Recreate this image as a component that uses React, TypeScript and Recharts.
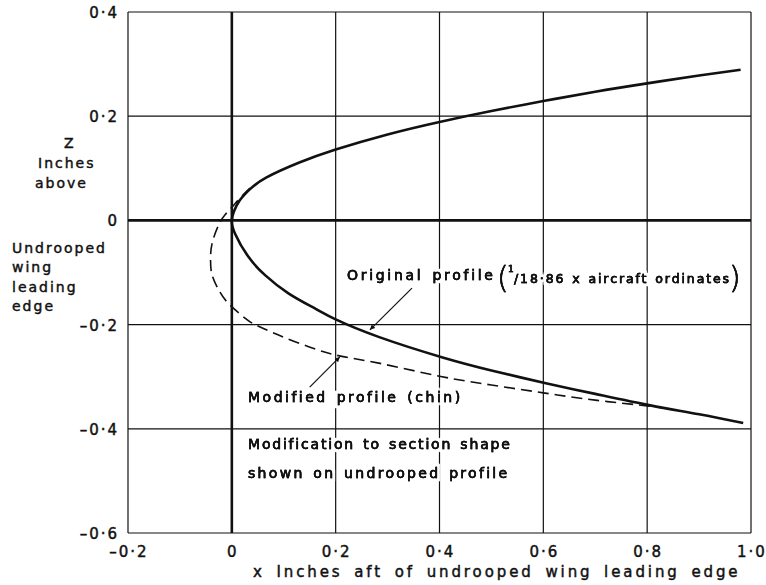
import React from 'react';
import { LineChart, Line, XAxis, YAxis, CartesianGrid, ReferenceLine, Customized } from 'recharts';

// Original profile (1/18.86 x aircraft ordinates): upper tip -> nose -> lower tip
const originalX = [0.98, 0.9, 0.8, 0.7, 0.6, 0.5, 0.4, 0.3, 0.2, 0.13, 0.066, 0.034, 0.015, 0.004, 0, 0.006, 0.032, 0.064, 0.109, 0.16, 0.2, 0.284, 0.406, 0.5, 0.607, 0.7, 0.806, 0.9, 0.985];
const originalZ = [0.289, 0.278, 0.263, 0.247, 0.229, 0.21, 0.189, 0.165, 0.136, 0.111, 0.082, 0.059, 0.038, 0.017, 0, -0.025, -0.07, -0.105, -0.14, -0.169, -0.19, -0.224, -0.263, -0.288, -0.313, -0.333, -0.355, -0.372, -0.389];

// Modified profile (chin)
const modifiedX = [0.035, 0.015, 0, -0.013, -0.025, -0.038, -0.041, -0.038, -0.025, -0.006, 0.026, 0.045, 0.09, 0.155, 0.212, 0.283, 0.4, 0.5, 0.6, 0.7, 0.8, 0.83];
const modifiedZ = [0.062, 0.042, 0.025, 0.011, -0.008, -0.044, -0.076, -0.105, -0.134, -0.16, -0.188, -0.2, -0.22, -0.245, -0.261, -0.274, -0.299, -0.316, -0.331, -0.345, -0.356, -0.36];

const xTicks = [-0.2, 0, 0.2, 0.4, 0.6, 0.8, 1.0];
const zTicks = [-0.6, -0.4, -0.2, 0, 0.2, 0.4];

// Annotation arrows (data coordinates): tail -> head
const originalArrow = [{ x: 0.347, y: -0.13 }, { x: 0.266, y: -0.21 }];
const modifiedArrow = [{ x: 0.15, y: -0.32 }, { x: 0.208, y: -0.262 }];

const originalData = originalX.map((x, i) => ({ x, z: originalZ[i] }));
const modifiedData = modifiedX.map((x, i) => ({ x, z: modifiedZ[i] }));

const INK = '#111';
const FONT = '"DejaVu Sans", Verdana, sans-serif';

const fmtTick = (v: number) =>
  Math.abs(v) < 1e-9 ? '0' : (v < 0 ? '–' : '') + Math.abs(v).toFixed(1).replace('.', '·');

const inkStroke = { stroke: INK, strokeWidth: 0.45 };
const tickStyle = { fontFamily: FONT, fontSize: 15, letterSpacing: 2, fill: INK, ...inkStroke };

const XTick = (props: any) => {
  const { x, y, payload } = props;
  return (
    <text x={x + 1} y={y + 24} textAnchor="middle" style={tickStyle}>
      {fmtTick(payload.value)}
    </text>
  );
};

const YTick = (props: any) => {
  const { x, y, payload } = props;
  return (
    <text x={x - 9} y={y + 6} textAnchor="end" style={tickStyle}>
      {fmtTick(payload.value)}
    </text>
  );
};

// ink text with a white halo (gaps the grid lines like the drawing)
const HaloText = ({ x, y, style, children }: any) => (
  <text x={x} y={y} filter="url(#textHalo)" style={{ ...style, fill: INK, ...inkStroke }}>{children}</text>
);

const lbl = (ls: number) => ({ fontFamily: FONT, fontSize: 14, letterSpacing: ls, wordSpacing: 2 });

const Annotations = () => (
  <g>
    <defs>
      <marker id="arrowHead" viewBox="0 0 10 10" refX="10" refY="5" markerWidth="9" markerHeight="5" orient="auto" markerUnits="userSpaceOnUse">
        <path d="M0,0 L10,5 L0,10 z" fill={INK} />
      </marker>
      <filter id="textHalo" x="-10%" y="-30%" width="120%" height="160%" colorInterpolationFilters="sRGB">
        <feMorphology in="SourceAlpha" operator="dilate" radius="2.5" result="grown" />
        <feFlood floodColor="#ffffff" result="white" />
        <feComposite in="white" in2="grown" operator="in" result="halo" />
        <feMerge>
          <feMergeNode in="halo" />
          <feMergeNode in="SourceGraphic" />
          <feMergeNode in="SourceGraphic" />
        </feMerge>
      </filter>
    </defs>
    {/* left axis title */}
    <g style={{ fontFamily: FONT, fontSize: 14, letterSpacing: 2, fill: INK, ...inkStroke }}>
      <text x={64} y={148}>Z</text>
      <text x={38} y={168}>Inches</text>
      <text x={35} y={188}>above</text>
      <text x={12} y={253}>Undrooped</text>
      <text x={12} y={272}>wing</text>
      <text x={12} y={292}>leading</text>
      <text x={12} y={311}>edge</text>
    </g>
    {/* x axis title */}
    <text x={253} y={577} style={{ fontFamily: FONT, fontSize: 15, letterSpacing: 2.9, wordSpacing: 4, fill: INK, ...inkStroke }}>
      x Inches aft of undrooped wing leading edge
    </text>
    {/* annotations in plot */}
    <HaloText x={347} y={280} style={lbl(2.7)}>Original profile</HaloText>
    <HaloText x={248} y={402} style={lbl(2.5)}>Modified profile (chin)</HaloText>
    <HaloText x={248} y={449} style={lbl(1.8)}>Modification to section shape</HaloText>
    <HaloText x={248} y={478} style={lbl(2.3)}>shown on undrooped profile</HaloText>
    <HaloText x={497} y={288} style={{ fontFamily: FONT, fontSize: 30, fontWeight: 300 }}>(</HaloText>
    <HaloText x={508} y={272} style={{ fontFamily: FONT, fontSize: 9 }}>1</HaloText>
    <HaloText x={514} y={283} style={{ fontFamily: FONT, fontSize: 12.5, letterSpacing: 1.9, wordSpacing: 1 }}>/18·86 x aircraft ordinates</HaloText>
    <HaloText x={729} y={288} style={{ fontFamily: FONT, fontSize: 30, fontWeight: 300 }}>)</HaloText>
  </g>
);

export default function App() {
  return (
    <div style={{ position: 'fixed', left: 0, top: 0, background: '#fff' }}>
      <LineChart
        width={766}
        height={585}
        margin={{ top: 12, right: 15, left: 0, bottom: 0 }}
        style={{ background: '#fff' }}
      >
        <CartesianGrid stroke={INK} strokeWidth={1.2} fill="none" />
        <XAxis
          dataKey="x"
          type="number"
          domain={[-0.2, 1.0]}
          ticks={xTicks}
          allowDataOverflow
          axisLine={false}
          tickLine={false}
          tickSize={0}
          tickMargin={0}
          height={52}
          tick={XTick}
          interval={0}
        />
        <YAxis
          dataKey="z"
          type="number"
          domain={[-0.6, 0.4]}
          ticks={zTicks}
          allowDataOverflow
          axisLine={false}
          tickLine={false}
          tickSize={0}
          tickMargin={0}
          width={128}
          tick={YTick}
          interval={0}
        />
        <ReferenceLine x={0} stroke={INK} strokeWidth={2.6} />
        <ReferenceLine y={0} stroke={INK} strokeWidth={2.6} />
        <ReferenceLine segment={originalArrow} stroke={INK} strokeWidth={1.2} markerEnd="url(#arrowHead)" />
        <ReferenceLine segment={modifiedArrow} stroke={INK} strokeWidth={1.2} markerEnd="url(#arrowHead)" />
        <Line
          data={modifiedData}
          dataKey="z"
          type="natural"
          stroke={INK}
          strokeWidth={1.6}
          strokeDasharray="11 6"
          dot={false}
          activeDot={false}
          isAnimationActive={false}
        />
        <Line
          data={originalData}
          dataKey="z"
          type="natural"
          stroke={INK}
          strokeWidth={2.6}
          dot={false}
          activeDot={false}
          isAnimationActive={false}
        />
        <Customized component={Annotations} />
      </LineChart>
    </div>
  );
}
